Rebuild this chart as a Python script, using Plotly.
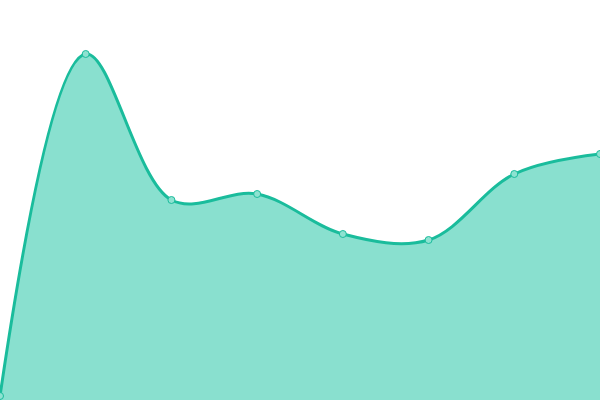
import plotly.graph_objects as go

x_idx = [0, 1, 2, 3, 4, 5, 6, 7]
values = [4, 346, 200, 206, 166, 160, 226, 246]

fig = go.Figure()
fig.add_trace(go.Scatter(
    x=x_idx, y=values, mode="lines+markers",
    line=dict(shape="spline", smoothing=1.0, color="#1abc9c", width=3),
    fill="tozeroy", fillcolor="#89e0cf",
    marker=dict(size=7, color="#8ee2d1", line=dict(color="#1abc9c", width=1)),
    hoverinfo="skip",
))
fig.update_layout(
    width=600, height=400,
    margin=dict(l=0, r=0, t=0, b=0),
    paper_bgcolor="white", plot_bgcolor="white",
    showlegend=False,
    xaxis=dict(range=[0, 7], visible=False, fixedrange=True),
    yaxis=dict(range=[0, 400], visible=False, fixedrange=True),
)
fig.write_html(
    "out.html",
    config={"displayModeBar": False},
    post_script="document.body.style.margin='0';document.body.style.overflow='hidden';",
)
